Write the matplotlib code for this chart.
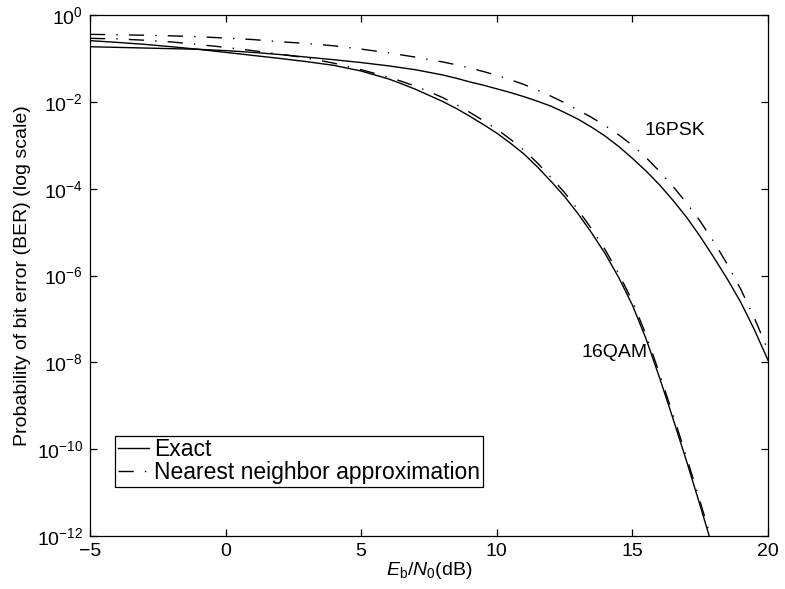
import numpy as np
import matplotlib
matplotlib.use('Agg')
import matplotlib.pyplot as plt
from matplotlib.ticker import LogLocator, NullLocator

# Eb/N0 in dB, BER values (log10)
psk_db = [-5, -4, -3, -2, -1, 0, 1, 2, 3, 4, 5, 6, 7, 8, 8.5, 9, 9.5, 10, 10.5, 11, 11.5, 12, 12.5,
          13, 13.5, 14, 14.5, 15, 15.5, 16, 16.5, 17, 17.5, 18, 18.5, 19, 19.5, 20]
psk_exact_log = [-0.73, -0.745, -0.76, -0.775, -0.79, -0.82, -0.86, -0.91, -0.97, -1.03, -1.095, -1.17,
                 -1.26, -1.38, -1.455, -1.54, -1.615, -1.70, -1.785, -1.88, -1.985, -2.10, -2.245,
                 -2.40, -2.585, -2.79, -3.03, -3.30, -3.59, -3.91, -4.27, -4.66, -5.10, -5.58, -6.08,
                 -6.62, -7.25, -7.95]
psk_nn_log = [-0.445, -0.455, -0.465, -0.48, -0.50, -0.53, -0.565, -0.615, -0.655, -0.71, -0.785, -0.87,
              -0.97, -1.08, -1.145, -1.22, -1.30, -1.39, -1.49, -1.60, -1.73, -1.87, -2.02,
              -2.19, -2.36, -2.55, -2.76, -3.00, -3.28, -3.60, -3.95, -4.33, -4.75, -5.22, -5.74,
              -6.32, -6.98, -7.72]

qam_db = [-5, -4, -3, -2, -1, 0, 1, 2, 3, 4, 5, 6, 6.5, 7, 7.5, 8, 8.5, 9, 9.5, 10, 10.5, 11, 11.5,
          12, 12.5, 13, 13.5, 14, 14.5, 15, 15.5, 16, 16.5, 17, 17.5, 18]
qam_exact_log = [-0.59, -0.63, -0.675, -0.73, -0.79, -0.86, -0.93, -1.00, -1.075, -1.16, -1.29, -1.47,
                 -1.585, -1.71, -1.85, -1.99, -2.15, -2.33, -2.52, -2.72, -2.95, -3.20, -3.50,
                 -3.83, -4.18, -4.58, -5.02, -5.50, -6.05, -6.68, -7.45, -8.35, -9.30, -10.28,
                 -11.30, -12.35]
qam_nn_log = [-0.537, -0.55, -0.58, -0.62, -0.68, -0.745, -0.82, -0.90, -0.99, -1.11, -1.26, -1.43,
              -1.53, -1.64, -1.765, -1.90, -2.06, -2.24, -2.43, -2.63, -2.86, -3.11, -3.41,
              -3.74, -4.09, -4.49, -4.93, -5.41, -5.96, -6.59, -7.36, -8.26, -9.21, -10.19,
              -11.21, -12.26]

plt.rcParams['font.family'] = ['Liberation Sans', 'DejaVu Sans']
plt.rcParams['mathtext.fontset'] = 'custom'
plt.rcParams['mathtext.rm'] = 'Liberation Sans'
plt.rcParams['mathtext.it'] = 'Liberation Sans:italic'
plt.rcParams['mathtext.default'] = 'regular'
plt.rcParams['lines.scale_dashes'] = False
plt.rcParams['font.size'] = 14

fig = plt.figure(figsize=(7.85, 5.89), dpi=100)
ax = fig.add_axes([0.1146, 0.09, 0.8637, 0.8845])

dashdot = (0, (11, 8, 1, 8))
lw = 1.0

ax.plot(psk_db, 10 ** np.array(psk_exact_log), color='black', lw=lw, label='Exact')
ax.plot(psk_db, 10 ** np.array(psk_nn_log), color='black', lw=lw, linestyle=dashdot,
        label='Nearest neighbor approximation')
ax.plot(qam_db, 10 ** np.array(qam_exact_log), color='black', lw=lw)
ax.plot(qam_db, 10 ** np.array(qam_nn_log), color='black', lw=lw, linestyle=dashdot)

ax.set_yscale('log')
ax.set_xlim(-5, 20)
ax.set_ylim(1e-12, 1)
ax.set_xticks([-5, 0, 5, 10, 15, 20])
ax.yaxis.set_major_locator(LogLocator(base=100.0, numticks=10))
ax.yaxis.set_minor_locator(NullLocator())
ax.tick_params(direction='in', top=True, right=True, length=5, width=0.9, labelsize=14, pad=5)
for s in ax.spines.values():
    s.set_linewidth(0.9)

ax.set_xlabel('$\\mathit{E}_\\mathrm{b}/\\mathit{N}_0$(dB)', fontsize=14, labelpad=0)
ax.set_ylabel('Probability of bit error (BER) (log scale)', fontsize=14, labelpad=4)

ax.text(15.46, 10 ** -2.67, '16PSK', fontsize=14, ha='left', va='center')
ax.text(15.57, 10 ** -7.78, '16QAM', fontsize=14, ha='right', va='center')

leg = ax.legend(loc='lower left', bbox_to_anchor=(0.037, 0.094), fontsize=16.5, frameon=True,
                fancybox=False, edgecolor='black', framealpha=1, handlelength=1.35,
                handletextpad=0.25, borderpad=0.12, labelspacing=0.0, borderaxespad=0)
leg.get_frame().set_linewidth(0.9)

fig.savefig('out.png', dpi=100)
